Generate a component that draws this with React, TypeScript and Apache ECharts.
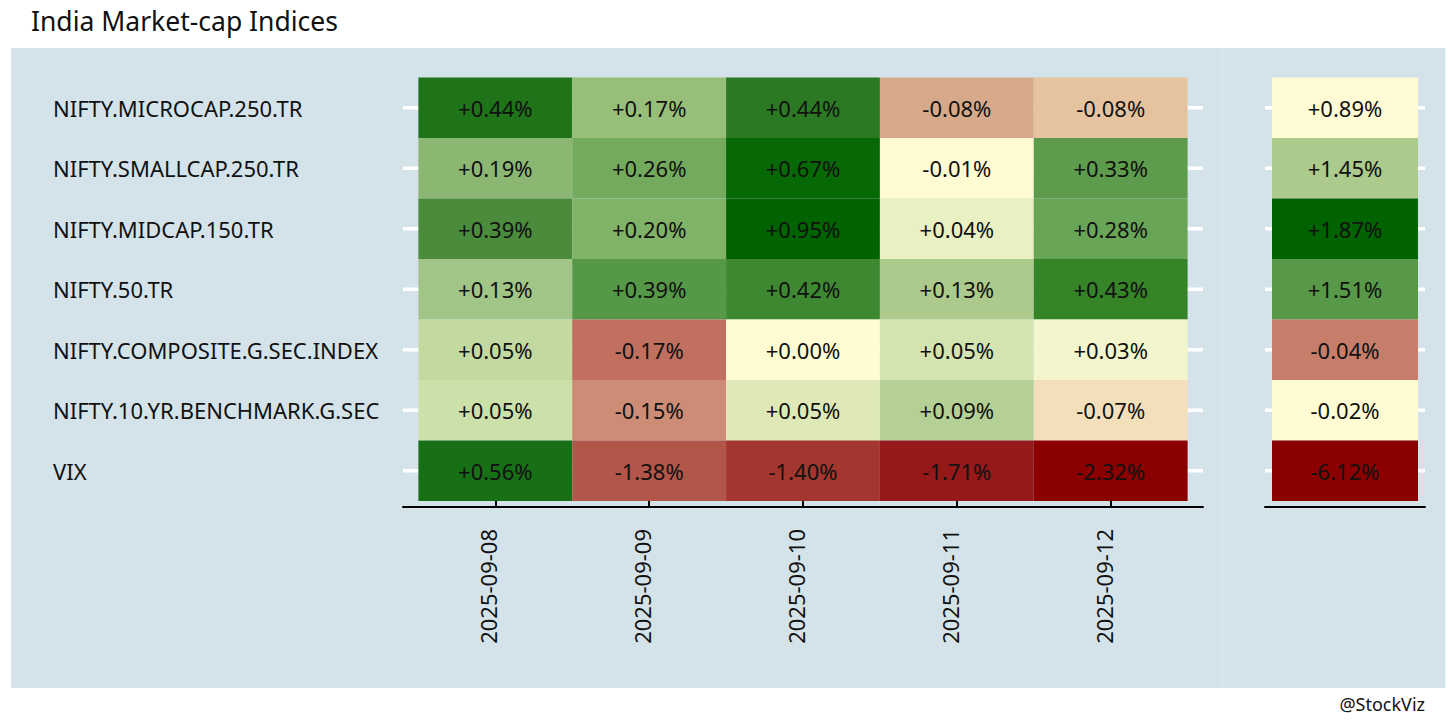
import React, { useEffect, useRef } from "react";
import * as echarts from "echarts";

const indices = [
  "NIFTY.MICROCAP.250.TR",
  "NIFTY.SMALLCAP.250.TR",
  "NIFTY.MIDCAP.150.TR",
  "NIFTY.50.TR",
  "NIFTY.COMPOSITE.G.SEC.INDEX",
  "NIFTY.10.YR.BENCHMARK.G.SEC",
  "VIX",
];
const dates = ["2025-09-08", "2025-09-09", "2025-09-10", "2025-09-11", "2025-09-12"];

const microcap = [0.44, 0.17, 0.44, -0.08, -0.08];
const smallcap = [0.19, 0.26, 0.67, -0.01, 0.33];
const midcap = [0.39, 0.2, 0.95, 0.04, 0.28];
const nifty50 = [0.13, 0.39, 0.42, 0.13, 0.43];
const compositeGsec = [0.05, -0.17, 0.0, 0.05, 0.03];
const tenYrGsec = [0.05, -0.15, 0.05, 0.09, -0.07];
const vix = [0.56, -1.38, -1.4, -1.71, -2.32];
const dailyReturns = [microcap, smallcap, midcap, nifty50, compositeGsec, tenYrGsec, vix];

const cumulative = [0.89, 1.45, 1.87, 1.51, -0.04, -0.02, -6.12];

const dailyFills = [
  ["#1f7318", "#98bf7a", "#2b7a23", "#d6a98b", "#e5c39f"],
  ["#8cb772", "#74aa5e", "#066906", "#fffbd2", "#5d9c4c"],
  ["#4a8c3c", "#80b268", "#006300", "#e9f0c2", "#68a556"],
  ["#a1c487", "#559848", "#3f8832", "#abca8c", "#358428"],
  ["#c2daa0", "#c16f5e", "#fffcd4", "#d4e4b0", "#f3f5cc"],
  ["#cce0a9", "#cd8c76", "#dfe9b8", "#b4d095", "#f3dfb9"],
  ["#187016", "#b15649", "#a3362f", "#96191a", "#8b0000"],
];
const cumulativeFills = ["#fffcd5", "#abca8b", "#006300", "#579849", "#c67e6a", "#fffcd4", "#8b0000"];

const FONT = "Noto Sans";
const BG = "#d4e3ea";

const fmt = (v: number) => (v >= 0 ? "+" : "") + v.toFixed(2) + "%";

export default function App() {
  const ref = useRef<HTMLDivElement>(null);
  useEffect(() => {
    if (!ref.current) return;
    const chart = echarts.init(ref.current, null, { renderer: "svg" });

    const dailyData: any[] = [];
    dailyReturns.forEach((row, r) =>
      row.forEach((v, c) => dailyData.push([c, r, v, dailyFills[r][c]]))
    );
    const cumData: any[] = cumulative.map((v, r) => [0, r, v, cumulativeFills[r]]);
    const rowIdx = indices.map((_, i) => [0, i]);

    const fillFor = (seriesIndex: number, dataIndex: number) =>
      seriesIndex === 2 ? dailyData[dataIndex][3] : cumData[dataIndex][3];

    const cellRender = (params: any, api: any) => {
      const c = api.value(0);
      const r = api.value(1);
      const v = api.value(2);
      const fill = fillFor(params.seriesIndex, params.dataIndex);
      const p = api.coord([c, r]);
      const s = api.size([1, 1]);
      return {
        type: "group",
        children: [
          {
            type: "rect",
            shape: { x: p[0] - s[0] / 2, y: p[1] - s[1] / 2, width: s[0], height: s[1] },
            style: { fill },
          },
          {
            type: "text",
            x: p[0],
            y: p[1],
            style: {
              text: fmt(v),
              fill: "#111",
              font: `22px "${FONT}"`,
              align: "center",
              verticalAlign: "middle",
            },
          },
        ],
      };
    };

    const gridRender = (params: any, api: any) => {
      const cs = params.coordSys;
      const y = api.coord([0, api.value(1)])[1];
      return {
        type: "line",
        shape: { x1: cs.x, y1: y, x2: cs.x + cs.width, y2: y },
        style: { stroke: "#ffffff", lineWidth: 3.5 },
      };
    };

    const yBase = {
      type: "value",
      min: -0.6,
      max: 6.6,
      inverse: true,
      axisLine: { show: false },
      axisTick: { show: false },
      splitLine: { show: false },
    };

    chart.setOption({
      animation: false,
      backgroundColor: "#ffffff",
      textStyle: { fontFamily: FONT },
      title: {
        text: "India Market-cap Indices",
        left: 26,
        top: 2,
        textStyle: { fontFamily: FONT, fontSize: 26.5, fontWeight: "normal", color: "#111" },
      },
      graphic: [
        { type: "rect", z: -10, shape: { x: 11, y: 48, width: 1434.5, height: 640 }, style: { fill: BG } },
        {
          type: "line",
          z: -9,
          shape: { x1: 1222.5, y1: 48, x2: 1222.5, y2: 688 },
          style: { stroke: "#dce8ee", lineWidth: 1 },
        },
        {
          type: "text",
          right: 31,
          top: 695,
          style: { text: "@StockViz", fill: "#111", font: `18px "${FONT}"` },
        },
      ],
      grid: [
        { left: 403, top: 71.4, width: 800, height: 435.6 },
        { left: 1265, top: 71.4, width: 160, height: 435.6 },
      ],
      xAxis: [
        {
          type: "value",
          gridIndex: 0,
          min: -0.6,
          max: 4.6,
          splitLine: { show: false },
          axisLine: { show: true, onZero: false, lineStyle: { color: "#000", width: 2 } },
          axisTick: {
            show: true,
            inside: true,
            length: 10,
            customValues: [0, 1, 2, 3, 4],
            lineStyle: { color: "#000", width: 2 },
          },
          axisLabel: {
            customValues: [0, 1, 2, 3, 4],
            rotate: 90,
            margin: 22,
            fontSize: 22,
            fontFamily: FONT,
            color: "#111",
            verticalAlign: "bottom",
            lineHeight: 14,
            formatter: (v: number) => dates[Math.round(v)] ?? "",
          },
        },
        {
          type: "value",
          gridIndex: 1,
          min: -0.548,
          max: 0.548,
          splitLine: { show: false },
          axisLine: { show: true, onZero: false, lineStyle: { color: "#000", width: 2 } },
          axisTick: { show: false },
          axisLabel: { show: false },
        },
      ],
      yAxis: [
        {
          ...yBase,
          gridIndex: 0,
          axisLabel: {
            customValues: [0, 1, 2, 3, 4, 5, 6],
            align: "left",
            margin: 350,
            fontSize: 22,
            fontFamily: FONT,
            color: "#111",
            formatter: (v: number) => indices[Math.round(v)] ?? "",
          },
        },
        { ...yBase, gridIndex: 1, axisLabel: { show: false } },
      ],
      series: [
        {
          type: "custom",
          xAxisIndex: 0,
          yAxisIndex: 0,
          renderItem: gridRender,
          data: rowIdx,
          silent: true,
          z: 1,
        },
        {
          type: "custom",
          xAxisIndex: 1,
          yAxisIndex: 1,
          renderItem: gridRender,
          data: rowIdx,
          silent: true,
          z: 1,
        },
        {
          type: "custom",
          xAxisIndex: 0,
          yAxisIndex: 0,
          renderItem: cellRender,
          data: dailyData.map((d) => [d[0], d[1], d[2]]),
          z: 2,
        },
        {
          type: "custom",
          xAxisIndex: 1,
          yAxisIndex: 1,
          renderItem: cellRender,
          data: cumData.map((d) => [d[0], d[1], d[2]]),
          z: 2,
        },
      ],
    });
    return () => chart.dispose();
  }, []);
  return (
    <div
      ref={ref}
      style={{ position: "absolute", left: 0, top: 0, width: 1456, height: 728, background: "#fff" }}
    />
  );
}
